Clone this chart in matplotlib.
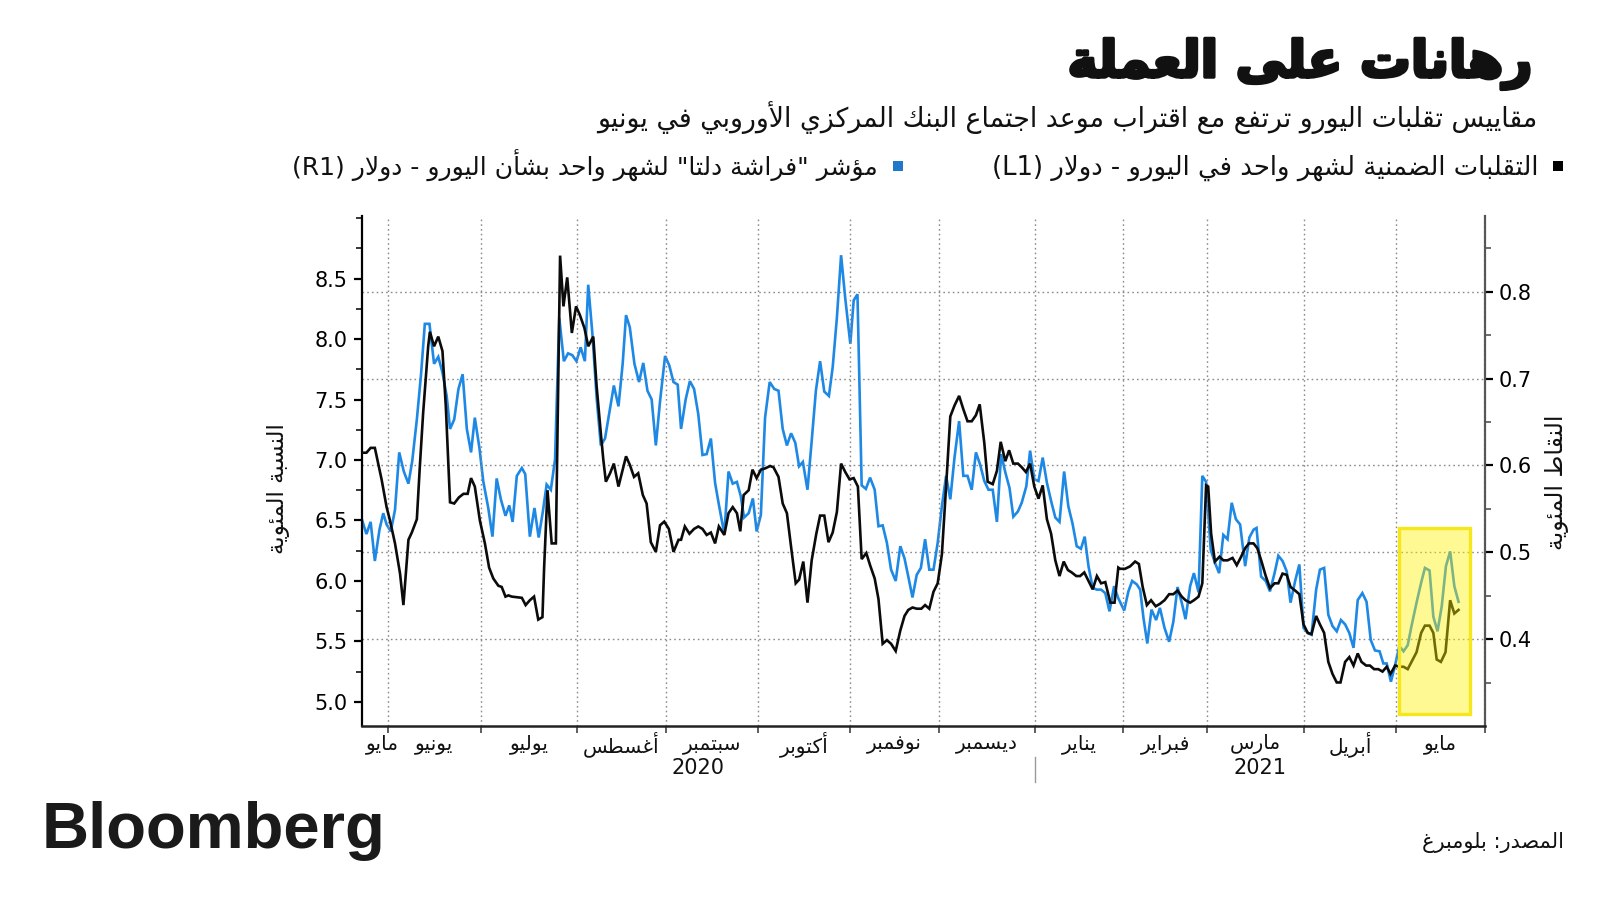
import re
import numpy as np
import pandas as pd
import matplotlib
matplotlib.use("Agg")
import matplotlib.pyplot as plt
from matplotlib.patches import Rectangle
import matplotlib.patheffects as pe

# ------------------------------------------------------------------ data
start_date = "2020-05-22"          # trading session 0
end_date = "2021-06-01"

# (trading session, 1-month EUR/USD implied vol, %)  -> left axis
black_series = [
    (-0.3, 7.06), (0.8, 7.06), (1.8, 7.10), (2.8, 7.10), (4.4, 6.84), (5.6, 6.61), (6.4, 6.50),
    (7.6, 6.31), (8.8, 6.06), (9.6, 5.80), (10.8, 6.34), (11.6, 6.40), (12.8, 6.51), (13.5, 6.94),
    (14.3, 7.39), (15.5, 7.94), (15.9, 8.06), (16.9, 7.94), (17.9, 8.02), (18.9, 7.90), (19.7, 7.44),
    (20.7, 6.65), (21.7, 6.64), (22.8, 6.69), (23.9, 6.72), (24.9, 6.72), (25.7, 6.85), (26.6, 6.78),
    (27.8, 6.50), (29.0, 6.31), (30.0, 6.11), (31.0, 6.02), (32.2, 5.96), (33.0, 5.95), (33.9, 5.87),
    (34.6, 5.88), (35.4, 5.87), (37.8, 5.86), (38.7, 5.80), (39.7, 5.84), (40.7, 5.87), (41.7, 5.68),
    (42.7, 5.70), (43.1, 6.11), (43.9, 6.75), (44.9, 6.31), (45.9, 6.31), (46.9, 8.69), (47.7, 8.27),
    (48.6, 8.51), (49.7, 8.05), (50.7, 8.27), (51.6, 8.20), (52.7, 8.09), (53.6, 7.94), (54.2, 7.98),
    (54.8, 8.02), (55.6, 7.61), (56.6, 7.22), (57.2, 7.00), (57.8, 6.82), (58.8, 6.89), (59.7, 6.97),
    (60.8, 6.78), (61.8, 6.92), (62.6, 7.03), (63.5, 6.96), (64.5, 6.86), (65.5, 6.89), (66.6, 6.71),
    (67.5, 6.64), (68.5, 6.32), (69.7, 6.24), (70.7, 6.46), (71.7, 6.49), (72.8, 6.43), (73.9, 6.24),
    (75.1, 6.34), (75.7, 6.34), (76.6, 6.45), (77.7, 6.39), (78.8, 6.43), (79.8, 6.45), (80.8, 6.43),
    (81.8, 6.38), (82.8, 6.40), (83.8, 6.31), (84.7, 6.45), (86.0, 6.38), (87.0, 6.56), (88.0, 6.61),
    (89.0, 6.56), (89.8, 6.41), (90.6, 6.71), (91.8, 6.75), (92.7, 6.92), (93.7, 6.85), (94.7, 6.92),
    (95.7, 6.93), (96.9, 6.95), (97.7, 6.94), (98.9, 6.86), (99.9, 6.64), (100.9, 6.56), (101.9, 6.28),
    (103.0, 5.98), (103.8, 6.01), (104.8, 6.16), (105.8, 5.82), (106.8, 6.17), (107.9, 6.39),
    (108.8, 6.54), (109.8, 6.54), (110.8, 6.32), (111.8, 6.40), (112.8, 6.57), (113.8, 6.97),
    (114.8, 6.90), (115.8, 6.84), (116.8, 6.85), (117.8, 6.78), (118.7, 6.18), (119.8, 6.23),
    (120.7, 6.13), (121.8, 6.02), (122.7, 5.85), (123.7, 5.48), (124.7, 5.51), (125.7, 5.48),
    (126.8, 5.42), (127.9, 5.59), (128.9, 5.71), (129.8, 5.76), (130.8, 5.78), (131.8, 5.77),
    (132.9, 5.77), (133.8, 5.80), (134.8, 5.77), (135.8, 5.91), (136.8, 5.98), (137.8, 6.22),
    (138.8, 6.78), (139.8, 7.36), (140.8, 7.45), (141.9, 7.53), (142.9, 7.42), (143.9, 7.32),
    (144.9, 7.32), (145.9, 7.37), (146.8, 7.46), (147.9, 7.14), (148.7, 6.82), (149.9, 6.80),
    (150.9, 6.91), (151.8, 7.15), (152.9, 6.99), (153.8, 7.08), (154.8, 6.97), (155.9, 6.97),
    (156.8, 6.94), (157.8, 6.90), (158.8, 6.97), (159.8, 6.78), (160.8, 6.68), (161.8, 6.79),
    (162.8, 6.51), (163.8, 6.39), (164.8, 6.17), (165.8, 6.04), (166.8, 6.16), (167.8, 6.09),
    (168.7, 6.07), (169.8, 6.04), (170.7, 6.04), (171.7, 6.07), (172.7, 6.00), (173.7, 5.93),
    (174.7, 6.04), (175.7, 5.98), (176.7, 5.99), (177.9, 5.82), (178.9, 5.82), (179.8, 6.11),
    (180.2, 6.10), (181.4, 6.10), (182.6, 6.12), (183.8, 6.16), (184.7, 6.14), (185.6, 5.95),
    (186.6, 5.80), (187.6, 5.84), (188.7, 5.79), (189.7, 5.81), (190.8, 5.84), (191.9, 5.89),
    (192.9, 5.89), (193.9, 5.92), (194.9, 5.87), (195.8, 5.84), (196.9, 5.82), (197.8, 5.84),
    (198.9, 5.87), (199.8, 5.98), (200.7, 6.79), (201.2, 6.78), (201.9, 6.39), (202.8, 6.16),
    (203.9, 6.20), (204.8, 6.17), (205.8, 6.17), (207.0, 6.19), (208.0, 6.13), (208.9, 6.19),
    (210.0, 6.27), (210.9, 6.31), (212.0, 6.31), (212.9, 6.27), (213.9, 6.16), (214.9, 6.04),
    (215.9, 5.94), (217.0, 5.98), (217.9, 5.98), (218.9, 6.06), (219.9, 6.05), (220.8, 5.95),
    (221.9, 5.92), (222.9, 5.89), (223.9, 5.64), (224.9, 5.57), (225.8, 5.56), (226.9, 5.71),
    (227.8, 5.64), (228.8, 5.57), (229.8, 5.33), (230.8, 5.23), (231.8, 5.16), (232.7, 5.16),
    (233.8, 5.33), (234.8, 5.37), (235.8, 5.30), (236.8, 5.40), (237.7, 5.33), (238.8, 5.30),
    (239.7, 5.30), (240.7, 5.27), (241.7, 5.27), (242.7, 5.25), (243.7, 5.29), (244.6, 5.23),
    (245.7, 5.30), (246.7, 5.29), (247.7, 5.29), (248.7, 5.27), (249.6, 5.33), (250.8, 5.41),
    (251.9, 5.57), (252.8, 5.63), (253.9, 5.63), (254.8, 5.57), (255.6, 5.35), (256.6, 5.33),
    (257.7, 5.41), (258.8, 5.84), (259.8, 5.73), (260.8, 5.76),
]

# (trading session, 1-month EUR/USD 25-delta butterfly, pts)  -> right axis
blue_series = [
    (-0.3, 0.538), (0.8, 0.521), (1.8, 0.535), (2.8, 0.490), (3.9, 0.526), (4.8, 0.545), (5.6, 0.532),
    (6.6, 0.524), (7.6, 0.549), (8.6, 0.615), (9.7, 0.593), (10.8, 0.579), (11.7, 0.605), (12.8, 0.653),
    (13.8, 0.705), (14.7, 0.763), (15.8, 0.763), (16.9, 0.717), (17.9, 0.725), (18.9, 0.707),
    (19.9, 0.680), (20.7, 0.642), (21.7, 0.653), (22.7, 0.688), (23.7, 0.705), (24.7, 0.642),
    (25.7, 0.615), (26.6, 0.655), (27.7, 0.620), (28.6, 0.582), (29.8, 0.551), (30.8, 0.518),
    (31.8, 0.585), (32.8, 0.561), (33.9, 0.542), (34.8, 0.554), (35.6, 0.535), (36.6, 0.588),
    (37.8, 0.597), (38.6, 0.590), (39.7, 0.518), (40.8, 0.551), (41.8, 0.517), (42.8, 0.547),
    (43.7, 0.578), (44.7, 0.572), (45.7, 0.607), (46.7, 0.770), (47.8, 0.720), (48.8, 0.729),
    (49.8, 0.727), (50.8, 0.720), (51.8, 0.736), (52.8, 0.720), (53.6, 0.808), (54.6, 0.751),
    (55.6, 0.678), (56.6, 0.623), (57.6, 0.631), (58.6, 0.660), (59.7, 0.692), (60.8, 0.668),
    (61.8, 0.717), (62.6, 0.773), (63.5, 0.759), (64.6, 0.717), (65.7, 0.696), (66.7, 0.718),
    (67.7, 0.686), (68.7, 0.676), (69.7, 0.623), (70.7, 0.674), (71.9, 0.726), (72.9, 0.715),
    (73.9, 0.696), (74.9, 0.693), (75.7, 0.642), (76.8, 0.676), (77.8, 0.697), (78.8, 0.688),
    (79.8, 0.659), (80.8, 0.612), (81.8, 0.613), (82.8, 0.631), (83.8, 0.580), (84.7, 0.555),
    (86.0, 0.521), (87.0, 0.593), (88.0, 0.579), (89.0, 0.581), (89.9, 0.565), (90.7, 0.540),
    (91.8, 0.545), (92.8, 0.562), (93.7, 0.524), (94.7, 0.543), (95.7, 0.655), (96.8, 0.696),
    (97.9, 0.688), (98.9, 0.686), (99.9, 0.642), (100.9, 0.623), (101.9, 0.637), (102.9, 0.626),
    (103.8, 0.599), (104.7, 0.604), (105.8, 0.572), (106.8, 0.628), (107.8, 0.686), (108.8, 0.720),
    (109.8, 0.685), (110.9, 0.680), (111.8, 0.713), (112.8, 0.770), (113.8, 0.842), (114.8, 0.792),
    (116.0, 0.740), (116.8, 0.790), (117.7, 0.797), (118.7, 0.577), (119.7, 0.573), (120.7, 0.586),
    (121.8, 0.572), (122.7, 0.530), (123.7, 0.531), (124.7, 0.511), (125.7, 0.480), (126.8, 0.467),
    (127.9, 0.507), (128.9, 0.493), (129.8, 0.472), (130.8, 0.448), (131.8, 0.474), (132.8, 0.482),
    (133.8, 0.515), (134.8, 0.480), (135.8, 0.480), (136.8, 0.511), (137.8, 0.553), (138.8, 0.588),
    (139.8, 0.561), (140.8, 0.609), (141.9, 0.651), (142.9, 0.588), (143.9, 0.588), (144.9, 0.572),
    (145.9, 0.615), (146.9, 0.601), (147.9, 0.582), (148.9, 0.572), (149.9, 0.572), (150.9, 0.535),
    (151.9, 0.613), (152.9, 0.592), (153.9, 0.574), (154.8, 0.541), (155.9, 0.547), (156.8, 0.557),
    (157.9, 0.576), (158.8, 0.617), (159.8, 0.584), (160.8, 0.582), (161.8, 0.609), (162.8, 0.580),
    (163.8, 0.559), (164.8, 0.540), (165.8, 0.535), (166.9, 0.593), (167.9, 0.553), (168.9, 0.533),
    (169.9, 0.507), (170.9, 0.504), (171.8, 0.518), (172.7, 0.484), (173.7, 0.459), (174.7, 0.457),
    (175.7, 0.457), (176.7, 0.453), (177.7, 0.432), (178.8, 0.461), (179.8, 0.447), (181.2, 0.433),
    (182.2, 0.455), (183.1, 0.467), (184.2, 0.463), (185.0, 0.457), (185.8, 0.424), (186.7, 0.395),
    (187.7, 0.434), (188.8, 0.422), (189.7, 0.436), (190.8, 0.413), (191.9, 0.397), (192.9, 0.420),
    (193.9, 0.460), (194.9, 0.442), (195.8, 0.423), (196.9, 0.461), (197.8, 0.476), (198.9, 0.454),
    (199.8, 0.588), (200.7, 0.581), (201.8, 0.503), (202.8, 0.488), (203.8, 0.476), (204.8, 0.520),
    (205.8, 0.515), (206.8, 0.557), (207.8, 0.538), (208.8, 0.532), (210.0, 0.484), (211.0, 0.517),
    (212.0, 0.526), (212.7, 0.528), (213.8, 0.472), (214.9, 0.467), (215.9, 0.455), (217.0, 0.476),
    (217.9, 0.496), (218.9, 0.490), (219.9, 0.478), (220.8, 0.442), (221.9, 0.467), (222.9, 0.486),
    (223.9, 0.413), (224.9, 0.407), (225.8, 0.405), (226.9, 0.457), (227.8, 0.480), (228.8, 0.482),
    (229.8, 0.428), (230.8, 0.415), (231.8, 0.409), (232.8, 0.422), (233.8, 0.417), (234.8, 0.407),
    (235.8, 0.390), (236.8, 0.445), (237.9, 0.453), (238.9, 0.443), (239.9, 0.399), (240.9, 0.387),
    (242.0, 0.386), (242.9, 0.372), (243.7, 0.372), (244.7, 0.351), (245.7, 0.370), (246.7, 0.392),
    (247.7, 0.386), (248.7, 0.393), (249.6, 0.415), (250.8, 0.442), (251.9, 0.465), (252.8, 0.482),
    (253.9, 0.479), (254.8, 0.426), (255.8, 0.409), (256.8, 0.438), (257.8, 0.484), (258.8, 0.501),
    (259.8, 0.461), (260.8, 0.443),
]

month_names = ["مايو", "يونيو", "يوليو", "أغسطس", "سبتمبر", "أكتوبر", "نوفمبر",
               "ديسمبر", "يناير", "فبراير", "مارس", "أبريل", "مايو"]
year_names = ["2020", "2021"]
left_ticks = [5.0, 5.5, 6.0, 6.5, 7.0, 7.5, 8.0, 8.5]
right_ticks = [0.4, 0.5, 0.6, 0.7, 0.8]
highlight_sessions = (246.7, 263.5)   # ECB-meeting run-up window
highlight_range = (4.90, 6.44)        # in left-axis units

title = "رهانات على العملة"
subtitle = "مقاييس تقلبات اليورو ترتفع مع اقتراب موعد اجتماع البنك المركزي الأوروبي في يونيو"
legend_black = "التقلبات الضمنية لشهر واحد في اليورو - دولار (L1)"
legend_blue = 'مؤشر "فراشة دلتا" لشهر واحد بشأن اليورو - دولار (R1)'
ylabel_left = "النسبة المئوية"
ylabel_right = "النقاط المئوية"
source_text = "المصدر: بلومبرغ"
brand = "Bloomberg"

# ------------------------------------------------------------------ Arabic shaping
_DUAL = {'ئ': 0xFE89, 'ب': 0xFE8F, 'ت': 0xFE95, 'ث': 0xFE99, 'ج': 0xFE9D, 'ح': 0xFEA1,
         'خ': 0xFEA5, 'س': 0xFEB1, 'ش': 0xFEB5, 'ص': 0xFEB9, 'ض': 0xFEBD, 'ط': 0xFEC1,
         'ظ': 0xFEC5, 'ع': 0xFEC9, 'غ': 0xFECD, 'ف': 0xFED1, 'ق': 0xFED5, 'ك': 0xFED9,
         'ل': 0xFEDD, 'م': 0xFEE1, 'ن': 0xFEE5, 'ه': 0xFEE9, 'ي': 0xFEF1}
_RIGHT = {'آ': 0xFE81, 'أ': 0xFE83, 'ؤ': 0xFE85, 'إ': 0xFE87, 'ا': 0xFE8D, 'ة': 0xFE93,
          'د': 0xFEA9, 'ذ': 0xFEAB, 'ر': 0xFEAD, 'ز': 0xFEAF, 'و': 0xFEED, 'ى': 0xFEEF}
_NONE = {'ء': 0xFE80}
_LAMALEF = {'آ': 0xFEF5, 'أ': 0xFEF7, 'إ': 0xFEF9, 'ا': 0xFEFB}


def _shape(text):
    toks = []
    i = 0
    while i < len(text):
        c = text[i]
        if c == 'ل' and i + 1 < len(text) and text[i + 1] in _LAMALEF:
            toks.append(('LA', text[i + 1]))
            i += 2
        else:
            toks.append(('C', c))
            i += 1

    def j_next(t):
        return t[0] == 'C' and t[1] in _DUAL

    def j_prev(t):
        return t[0] == 'LA' or t[1] in _DUAL or t[1] in _RIGHT

    out = []
    for k, t in enumerate(toks):
        p = k > 0 and j_next(toks[k - 1]) and j_prev(t)
        n = k + 1 < len(toks) and j_next(t) and j_prev(toks[k + 1])
        kind, c = t
        if kind == 'LA':
            out.append(chr(_LAMALEF[c] + (1 if p else 0)))
        elif c in _DUAL:
            b = _DUAL[c]
            out.append(chr(b + 3 if (p and n) else b + 1 if p else b + 2 if n else b))
        elif c in _RIGHT:
            out.append(chr(_RIGHT[c] + (1 if p else 0)))
        elif c in _NONE:
            out.append(chr(_NONE[c]))
        else:
            out.append(c)
    return ''.join(out)


_MIRROR = {'(': ')', ')': '('}


def rtl(text):
    s = _shape(text)
    parts = re.split(r'([A-Za-z0-9.]+)', s)
    vis = []
    for i, p in enumerate(parts):
        if i % 2 == 1:
            vis.append(p)
        else:
            vis.append(''.join(_MIRROR.get(ch, ch) for ch in reversed(p)))
    return ''.join(reversed(vis))


# ------------------------------------------------------------------ figure
W, H = 1600, 900
fig = plt.figure(figsize=(16, 9), dpi=100)
fig.patch.set_facecolor("white")
AR = ["DejaVu Sans"]


def fx(px):
    return px / W


def fy(py):
    return 1 - py / H


ax = fig.add_axes([fx(361.7), fy(726), (1485 - 361.7) / W, (726 - 215.7) / H])
ax2 = ax.twinx()
ax.set_zorder(ax2.get_zorder() + 1)
ax.patch.set_visible(False)

days = pd.bdate_range(start_date, end_date)
month_ticks = [i for i in range(1, len(days)) if days[i].month != days[i - 1].month]
jan_tick = [i for i in month_ticks if days[i].year == 2021][0]
x_left, x_right = -0.33, month_ticks[-1] + 0.1

bs, bv = zip(*black_series)
us, uv = zip(*blue_series)

ax2.plot(us, uv, color="#1e88e5", lw=1.9, solid_joinstyle="miter", zorder=3)
ax.plot(bs, bv, color="#0b0b0b", lw=1.9, solid_joinstyle="miter", zorder=3)

# limits / mapping of both axes
ax.set_xlim(x_left, x_right)
ax.set_ylim(4.80, 9.02)
ax2.set_ylim(0.300, 0.8875)

# highlight box
x0, x1 = highlight_sessions
y0, y1 = highlight_range
ax.add_patch(Rectangle((x0, y0), x1 - x0, y1 - y0, facecolor="#fff200", alpha=0.42,
                       edgecolor="none", zorder=6))
ax.add_patch(Rectangle((x0, y0), x1 - x0, y1 - y0, fill=False, edgecolor="#f6e71c",
                       lw=2.4, zorder=7))

# ticks
ax.set_xticks(month_ticks)
ax.set_xticklabels([])
ax.set_yticks(left_ticks)
ax.set_yticklabels([f"{v:.1f}" for v in left_ticks])
ax.set_yticks([v for v in np.arange(4.75, 9.01, 0.25) if v >= 4.8 and round(v, 2) not in left_ticks],
              minor=True)
ax2.set_yticks(right_ticks)
ax2.set_yticklabels([f"{v:.1f}" for v in right_ticks])
ax2.set_yticks([0.35, 0.45, 0.55, 0.65, 0.75, 0.85], minor=True)

ax.tick_params(axis="y", which="major", length=6, width=1.6, pad=4, labelsize=15,
               colors="black", direction="out")
ax.tick_params(axis="y", which="minor", length=4, width=1.1, colors="black")
ax.tick_params(axis="x", which="major", length=5, width=1.1, colors="#333333")
ax2.tick_params(axis="y", which="major", length=6, width=1.6, pad=4, labelsize=15,
                colors="black", direction="out")
ax2.tick_params(axis="y", which="minor", length=4, width=1.1, colors="#444444")
for lab in ax.get_yticklabels() + ax2.get_yticklabels():
    lab.set_fontfamily("DejaVu Sans")

# grid
ax.grid(axis="x", color="#8c8c8c", linestyle=(0, (1.2, 2.2)), lw=1.0)
ax2.grid(axis="y", color="#8c8c8c", linestyle=(0, (1.2, 2.2)), lw=1.0)

# spines
for s in ("top", "right"):
    ax.spines[s].set_visible(False)
ax.spines["left"].set_linewidth(1.6)
ax.spines["left"].set_color("black")
ax.spines["bottom"].set_linewidth(1.8)
ax.spines["bottom"].set_color("#222222")
for s in ("top", "left", "bottom"):
    ax2.spines[s].set_visible(False)
ax2.spines["right"].set_linewidth(1.6)
ax2.spines["right"].set_color("#555555")

# month + year labels
xtr = ax.get_xaxis_transform()
label_pos = [month_ticks[0] - 1.4] + [(month_ticks[i - 1] + month_ticks[i]) / 2
                                      for i in range(1, len(month_ticks))]
for name, xp in zip(month_names, label_pos):
    ax.text(xp, -0.036, rtl(name), transform=xtr, ha="center", va="center",
            fontsize=14.5, family=AR, color="#111111")
year_pos = [(x_left + jan_tick) / 2, (jan_tick + x_right) / 2]
for name, xp in zip(year_names, year_pos):
    ax.text(xp, -0.083, name, transform=xtr, ha="center", va="center",
            fontsize=15, family=AR, color="#111111")
ax.plot([jan_tick, jan_tick], [-0.060, -0.110], transform=xtr, clip_on=False,
        color="#9a9a9a", lw=1.0)

# axis titles
fig.text(fx(278), fy(489), rtl(ylabel_left), rotation=90, ha="center", va="center",
         fontsize=16.5, family=AR, color="#111111")
fig.text(fx(1557), fy(482), rtl(ylabel_right), rotation=90, ha="center", va="center",
         fontsize=17, family=AR, color="#111111")

# header
fig.text(fx(1533), fy(77), rtl(title), ha="right", va="baseline", fontsize=36.5,
         fontweight="bold", family=AR, color="#111111",
         path_effects=[pe.withStroke(linewidth=2.5, foreground="#111111")])
fig.text(fx(1537), fy(126.5), rtl(subtitle), ha="right", va="baseline", fontsize=19.3,
         family=AR, color="#111111")

# legend
fig.add_artist(Rectangle((fx(1553), fy(171)), 10 / W, 10 / H, transform=fig.transFigure,
                         facecolor="black", edgecolor="none"))
fig.text(fx(1539), fy(175), rtl(legend_black), ha="right", va="baseline", fontsize=18.6,
         family=AR, color="#111111")
fig.add_artist(Rectangle((fx(893), fy(171)), 10 / W, 10 / H, transform=fig.transFigure,
                         facecolor="#1f78c8", edgecolor="none"))
fig.text(fx(878), fy(175), rtl(legend_blue), ha="right", va="baseline", fontsize=18.0,
         family=AR, color="#111111")

# footer
fig.text(fx(42), fy(848), brand, ha="left", va="baseline", fontsize=47, fontweight="bold",
         family=["Liberation Sans", "DejaVu Sans"], color="#1a1a1a")
fig.text(fx(1564), fy(848), rtl(source_text), ha="right", va="baseline", fontsize=15,
         family=AR, color="#111111")

fig.savefig("out.png", dpi=100, facecolor="white")
